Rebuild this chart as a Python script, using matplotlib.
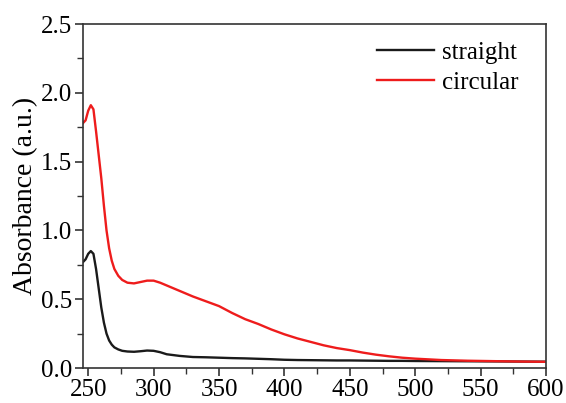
import matplotlib.pyplot as plt
from matplotlib.ticker import MultipleLocator

# wavelength (nm) and absorbance
wl = [245, 248, 250, 252, 254, 256, 258, 260, 262, 264, 266, 268, 270, 273,
      276, 280, 285, 290, 295, 300, 305, 310, 320, 330, 340, 350, 360, 370,
      380, 390, 400, 410, 420, 430, 440, 450, 460, 470, 480, 490, 500, 520,
      540, 560, 580, 600]

circular = [1.77, 1.80, 1.87, 1.91, 1.88, 1.72, 1.55, 1.38, 1.18, 1.00, 0.87,
            0.78, 0.72, 0.67, 0.64, 0.62, 0.615, 0.625, 0.635, 0.635, 0.62,
            0.60, 0.56, 0.52, 0.485, 0.45, 0.40, 0.355, 0.32, 0.28, 0.245,
            0.215, 0.19, 0.165, 0.145, 0.13, 0.112, 0.097, 0.085, 0.075,
            0.068, 0.058, 0.053, 0.05, 0.047, 0.045]

straight = [0.76, 0.79, 0.83, 0.85, 0.83, 0.72, 0.58, 0.44, 0.33, 0.25, 0.20,
            0.17, 0.15, 0.135, 0.125, 0.12, 0.118, 0.122, 0.127, 0.125, 0.115,
            0.10, 0.088, 0.08, 0.078, 0.075, 0.072, 0.07, 0.067, 0.064, 0.06,
            0.058, 0.057, 0.056, 0.055, 0.055, 0.054, 0.053, 0.052, 0.052,
            0.051, 0.05, 0.049, 0.048, 0.047, 0.046]

plt.rcParams['font.family'] = ['Liberation Serif', 'DejaVu Serif']

fig = plt.figure(figsize=(5.66, 4.03), dpi=100)
ax = fig.add_axes([0.1466, 0.0868, 0.8181, 0.8536])

ax.plot(wl, straight, color='#1a1a1a', lw=1.7, label='straight')
ax.plot(wl, circular, color='#ee1c1c', lw=1.7, label='circular')

ax.set_xlim(246, 600)
ax.set_ylim(0, 2.5)
ax.xaxis.set_major_locator(MultipleLocator(50))
ax.xaxis.set_minor_locator(MultipleLocator(25))
ax.yaxis.set_major_locator(MultipleLocator(0.5))
ax.yaxis.set_minor_locator(MultipleLocator(0.25))
ax.yaxis.set_major_formatter(plt.FormatStrFormatter('%.1f'))

ax.tick_params(which='both', direction='out', labelsize=18, color='#333333')
ax.tick_params(which='major', length=6, width=1.2, pad=2)
ax.tick_params(which='minor', length=4, width=1.0)
for s in ax.spines.values():
    s.set_color('#333333')
    s.set_linewidth(1.2)

ax.set_ylabel('Absorbance (a.u.)', fontsize=20, labelpad=2)

ax.legend(loc='upper right', bbox_to_anchor=(0.978, 1.0), frameon=False,
          fontsize=18, handlelength=2.3, handletextpad=0.3, labelspacing=0.28,
          borderaxespad=0.5, borderpad=0.2)

fig.savefig('out.png', dpi=100)
